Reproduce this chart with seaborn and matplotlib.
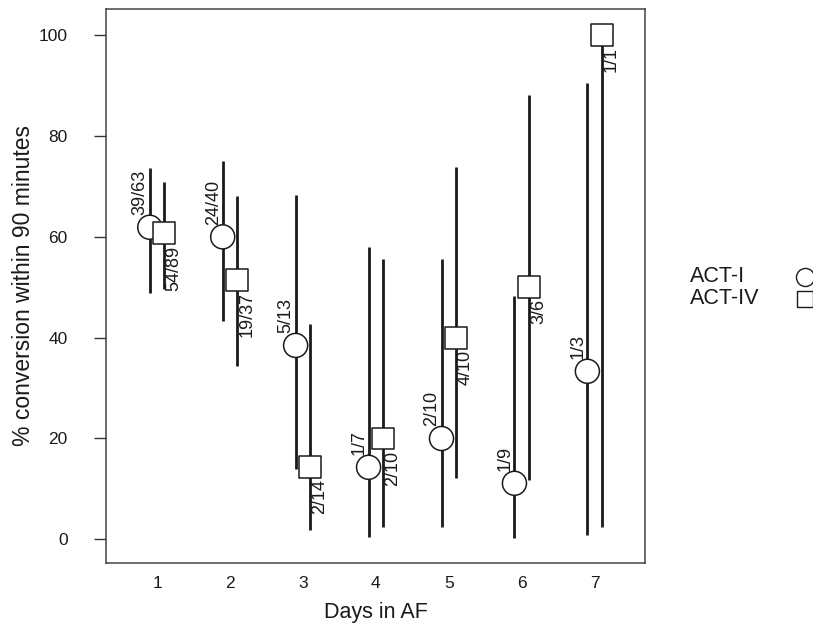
import matplotlib
matplotlib.use("Agg")
import matplotlib.pyplot as plt
from matplotlib.lines import Line2D
import pandas as pd
import seaborn as sns

# Conversion counts per day in AF and exact 95% confidence limits (%)
days = [1, 2, 3, 4, 5, 6, 7]

act_i_converted = [39, 24, 5, 1, 2, 1, 1]
act_i_total = [63, 40, 13, 7, 10, 9, 3]
act_i_ci_low = [48.8, 43.3, 13.9, 0.4, 2.5, 0.3, 0.8]
act_i_ci_high = [73.6, 75.1, 68.4, 57.9, 55.6, 48.2, 90.6]

act_iv_converted = [54, 19, 2, 2, 4, 3, 1]
act_iv_total = [89, 37, 14, 10, 10, 6, 1]
act_iv_ci_low = [49.7, 34.4, 1.8, 2.5, 12.2, 11.8, 2.5]
act_iv_ci_high = [70.9, 68.1, 42.8, 55.6, 73.8, 88.2, 100.0]

groups = ["ACT-I", "ACT-IV"]
group_marker = {"ACT-I": "o", "ACT-IV": "s"}
group_offset = {"ACT-I": -0.1, "ACT-IV": 0.1}

rows = []
for name, conv, tot, lo, hi in [
    ("ACT-I", act_i_converted, act_i_total, act_i_ci_low, act_i_ci_high),
    ("ACT-IV", act_iv_converted, act_iv_total, act_iv_ci_low, act_iv_ci_high),
]:
    for d, k, n, l, h in zip(days, conv, tot, lo, hi):
        rows.append({"group": name, "day": d, "k": k, "n": n,
                     "pct": 100.0 * k / n, "lo": l, "hi": h,
                     "xpos": d + group_offset[name]})
df = pd.DataFrame(rows)

sns.set_theme(style="white")
plt.rcParams["font.family"] = ["Liberation Sans", "DejaVu Sans"]
ink = "#1a1a1a"

fig = plt.figure(figsize=(8.13, 6.33), dpi=100)
ax = fig.add_axes([106 / 813, 1 - 563 / 633, (645 - 106) / 813, (563 - 9) / 633])

# confidence interval bars
ax.vlines(df["xpos"], df["lo"], df["hi"], color=ink, linewidth=2.0, zorder=2)

# point estimates
sns.scatterplot(data=df, x="xpos", y="pct", style="group", size="group",
                markers=group_marker,
                sizes={"ACT-I": 300, "ACT-IV": 250},
                color="white", edgecolor=ink, linewidth=1.1,
                legend=False, zorder=3, ax=ax)

# k/n annotations: above-left of circles, below-right of squares
for _, r in df.iterrows():
    label = f"{r['k']}/{r['n']}"
    if r["group"] == "ACT-I":
        ax.annotate(label, xy=(r["xpos"], r["pct"]), xytext=(-1, 12),
                    textcoords="offset pixels", rotation=90,
                    ha="right", va="bottom", fontsize=13, color=ink, zorder=4)
    else:
        ax.annotate(label, xy=(r["xpos"], r["pct"]), xytext=(1, -12),
                    textcoords="offset pixels", rotation=90,
                    ha="left", va="top", fontsize=13, color=ink, zorder=4)

ax.set_xlim(0.30, 7.69)
ax.set_ylim(-4.7, 105.2)
ax.set_xticks(days)
ax.set_yticks([0, 20, 40, 60, 80, 100])
ax.tick_params(axis="x", length=0, pad=9, labelsize=12.5, labelcolor=ink)
ax.tick_params(axis="y", length=8.5, width=1.0, color="#333333", pad=19,
               labelsize=12.5, labelcolor=ink, left=True)
for sp in ax.spines.values():
    sp.set_color("#444444")
    sp.set_linewidth(1.1)

ax.set_xlabel("Days in AF", fontsize=15.5, color=ink, labelpad=8)
ax.set_ylabel("% conversion within 90 minutes", fontsize=16.5, color=ink,
              labelpad=3)

# key on the right margin: labels left-aligned, symbols in a column
key_rows = [(groups[0], 277, 13), (groups[1], 299, 12)]
for name, ypix, msize in key_rows:
    yf = 1 - ypix / 633
    fig.text(690 / 813, yf, name, ha="left", va="center", fontsize=15.5,
             color=ink)
    fig.add_artist(Line2D([805 / 813], [yf], transform=fig.transFigure,
                          linestyle="none", marker=group_marker[name],
                          markersize=msize, markerfacecolor="white",
                          markeredgecolor=ink, markeredgewidth=1.0))

fig.savefig("out.png", dpi=100)
